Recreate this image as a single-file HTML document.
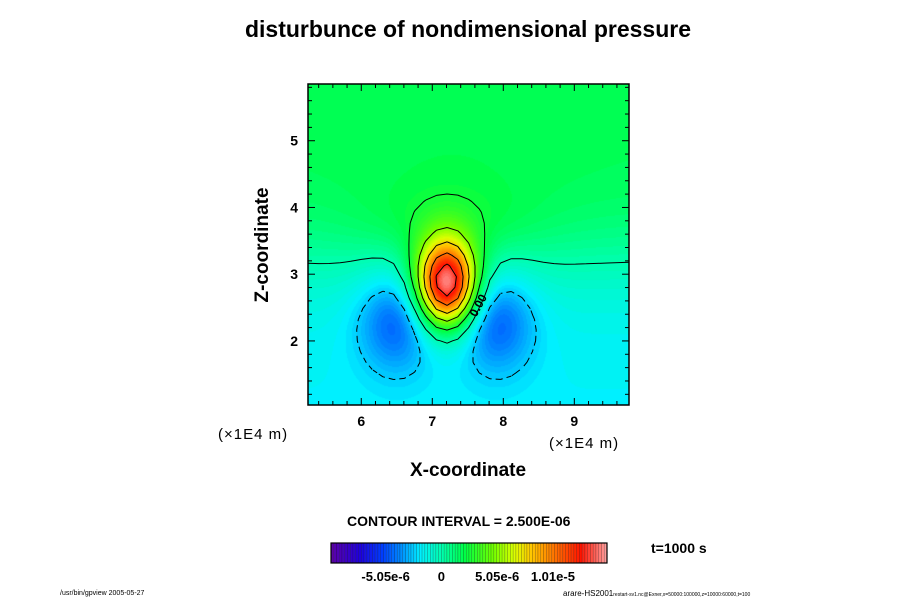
<!DOCTYPE html>
<html><head><meta charset="utf-8">
<style>
html,body{margin:0;padding:0;background:#fff;}
body{width:900px;height:600px;position:relative;overflow:hidden;font-family:"Liberation Sans",sans-serif;}
.t{position:absolute;white-space:nowrap;color:#000;}
</style></head>
<body>
<div class="t" style="left:0;width:936px;text-align:center;top:16px;font-size:23px;font-weight:bold;">disturbunce of nondimensional pressure</div>
<svg id="chart" width="900" height="600" style="position:absolute;left:0;top:0">
  <foreignObject x="308" y="84" width="321" height="321"><canvas xmlns="http://www.w3.org/1999/xhtml" id="cv" width="321" height="321"></canvas></foreignObject>
  <g id="contours"></g>
  <g id="axes"></g>
  <g id="cbar"></g>
</svg>
<div class="t" style="left:263px;top:245px;transform:translate(-50%,-50%) rotate(-90deg);font-size:19px;font-weight:bold;">Z-coordinate</div>
<div class="t" style="left:468px;top:471px;transform:translate(-50%,-50%);font-size:19px;font-weight:bold;">X-coordinate</div>
<div class="t" style="left:218px;top:426px;font-size:15px;letter-spacing:1px;">(×1E4 m)</div>
<div class="t" style="left:549px;top:435px;font-size:15px;letter-spacing:1px;">(×1E4 m)</div>
<div class="t" style="left:347px;top:513px;font-size:14px;font-weight:bold;">CONTOUR INTERVAL = 2.500E-06</div>
<div class="t" style="left:651px;top:540px;font-size:14px;font-weight:bold;">t=1000 s</div>
<div class="t" style="left:60px;top:590px;font-size:7px;">/usr/bin/gpview 2005-05-27</div>
<div class="t" style="left:563px;top:589px;font-size:8px;">arare-HS2001<span style="font-size:5px;">restart-sv1.nc@Exner,x=50000:100000,z=10000:60000,t=100</span></div>
<script>
// ---- data ----
const xTicks=[6,7,8,9];
const zTicks=[2,3,4,5];
const xRange=[5.25,9.77];
const zRange=[1.04,5.85];
// field components (x center, z center, amplitude, sigma x, sigma z)
const blobX=[7.2,7.25,7.3,6.5,7.9];
const blobZ=[2.85,3.75,4.3,2.3,2.3];
const blobAmp=[1.55e-5,1.0e-6,0.3e-6,-3.2e-6,-3.2e-6];
const blobSx=[0.3,0.8,1.5,0.38,0.38];
const blobSz=[0.46,0.4,1.0,0.52,0.52];
const baseAmp=1.8e-6, baseZ0=3.2, baseScale=0.9;
const levels=[-2.5e-6,0,2.5e-6,5e-6,7.5e-6,1e-5,1.25e-5];
const cbMin=-1.0e-5, cbMax=1.5e-5, cbSteps=100;
const cbTicks=[-5.05e-6,0,5.05e-6,1.01e-5];
const cbTickLabels=["-5.05e-6","0","5.05e-6","1.01e-5"];
// ---- geometry ----
const PX0=308,PX1=629,PY0=84,PY1=405;
const sx=v=>PX0+(v-xRange[0])/(xRange[1]-xRange[0])*(PX1-PX0);
const sz=v=>PY1-(v-zRange[0])/(zRange[1]-zRange[0])*(PY1-PY0);
function field(x,z){
  let v=baseAmp*Math.tanh((z-baseZ0)/baseScale);
  for(let i=0;i<blobX.length;i++){
    const dx=(x-blobX[i])/blobSx[i],dz=(z-blobZ[i])/blobSz[i];
    v+=blobAmp[i]*Math.exp(-0.5*(dx*dx+dz*dz));
  }
  return v;
}
const cstops=[[0,[90,0,170]],[0.1,[30,0,220]],[0.18,[0,60,255]],[0.24,[0,130,255]],[0.32,[0,240,255]],[0.4,[0,255,170]],[0.48,[0,255,70]],[0.58,[110,255,0]],[0.66,[220,255,0]],[0.72,[255,200,0]],[0.8,[255,120,0]],[0.9,[255,20,0]],[1,[255,170,170]]];
function cmap(v){
  let t=(v-cbMin)/(cbMax-cbMin);t=Math.max(0,Math.min(1,t));
  t=Math.floor(t*cbSteps)/cbSteps;
  for(let i=1;i<cstops.length;i++){if(t<=cstops[i][0]){const a=cstops[i-1],b=cstops[i];const f=(t-a[0])/(b[0]-a[0]);return a[1].map((c,k)=>Math.round(c+(b[1][k]-c)*f));}}
  return cstops[cstops.length-1][1];
}
// shaded field
const cv=document.getElementById('cv'),ctx=cv.getContext('2d');
const img=ctx.createImageData(321,321);
for(let j=0;j<321;j++)for(let i=0;i<321;i++){
  const x=xRange[0]+(i+0.5)/321*(xRange[1]-xRange[0]);
  const z=zRange[1]-(j+0.5)/321*(zRange[1]-zRange[0]);
  const c=cmap(field(x,z));const k=(j*321+i)*4;
  img.data[k]=c[0];img.data[k+1]=c[1];img.data[k+2]=c[2];img.data[k+3]=255;
}
ctx.putImageData(img,0,0);
const NS='http://www.w3.org/2000/svg';
function mk(tag,attrs,parent){const e=document.createElementNS(NS,tag);for(const k in attrs)e.setAttribute(k,attrs[k]);parent.appendChild(e);return e;}
// contours via marching squares on a coarse grid
const cg=document.getElementById('contours');
const NX=30,NZ=30;
const gx=[],gz=[],gv=[];
for(let i=0;i<=NX;i++)gx.push(xRange[0]+i/NX*(xRange[1]-xRange[0]));
for(let j=0;j<=NZ;j++)gz.push(zRange[0]+j/NZ*(zRange[1]-zRange[0]));
for(let j=0;j<=NZ;j++){gv.push([]);for(let i=0;i<=NX;i++)gv[j].push(field(gx[i],gz[j]));}
levels.forEach(L=>{
  let d='';
  for(let j=0;j<NZ;j++)for(let i=0;i<NX;i++){
    const p=[[gx[i],gz[j],gv[j][i]],[gx[i+1],gz[j],gv[j][i+1]],[gx[i+1],gz[j+1],gv[j+1][i+1]],[gx[i],gz[j+1],gv[j+1][i]]];
    const pts=[];
    for(let e=0;e<4;e++){const a=p[e],b=p[(e+1)%4];
      if((a[2]-L)*(b[2]-L)<0){const f=(L-a[2])/(b[2]-a[2]);pts.push([sx(a[0]+(b[0]-a[0])*f),sz(a[1]+(b[1]-a[1])*f)]);}}
    for(let k=0;k+1<pts.length;k+=2)d+=`M${pts[k][0].toFixed(1)},${pts[k][1].toFixed(1)}L${pts[k+1][0].toFixed(1)},${pts[k+1][1].toFixed(1)}`;
  }
  const path=mk('path',{d:d,fill:'none',stroke:'#000','stroke-width':1},cg);
  
  
  if(L<0)path.setAttribute('stroke-dasharray','5,4');
});
const zl=mk('text',{x:sx(7.62),y:sz(2.35),'font-size':12,'font-weight':'bold','font-family':'Liberation Sans, sans-serif',transform:`rotate(-62 ${sx(7.62)} ${sz(2.35)})`},cg);
zl.textContent='0.00';


// axes
const ax=document.getElementById('axes');
mk('rect',{x:PX0,y:PY0,width:PX1-PX0,height:PY1-PY0,fill:'none',stroke:'#000','stroke-width':1.5},ax);
for(let v=5.4;v<=9.77;v+=0.2){const X=sx(v);const maj=Math.abs(v-Math.round(v))<0.01;const L=maj?7:4;
  mk('line',{x1:X,y1:PY1,x2:X,y2:PY1-L,stroke:'#000'},ax);mk('line',{x1:X,y1:PY0,x2:X,y2:PY0+L,stroke:'#000'},ax);}
for(let v=1.2;v<=5.85;v+=0.2){const Y=sz(v);const maj=Math.abs(v-Math.round(v))<0.01;const L=maj?7:4;
  mk('line',{x1:PX0,y1:Y,x2:PX0+L,y2:Y,stroke:'#000'},ax);mk('line',{x1:PX1,y1:Y,x2:PX1-L,y2:Y,stroke:'#000'},ax);}
xTicks.forEach(v=>{const t=mk('text',{x:sx(v),y:426,'text-anchor':'middle','font-size':14,'font-weight':'bold','font-family':'Liberation Sans, sans-serif'},ax);t.textContent=v;
  
  });
zTicks.forEach(v=>{const t=mk('text',{x:298,y:sz(v)+5,'text-anchor':'end','font-size':14,'font-weight':'bold','font-family':'Liberation Sans, sans-serif'},ax);t.textContent=v;
  
  });
// colorbar
const cb=document.getElementById('cbar');
const CB0=331,CB1=607,CBY=543,CBH=20;
const cbx=v=>CB0+(v-cbMin)/(cbMax-cbMin)*(CB1-CB0);
for(let s=0;s<cbSteps;s++){
  const v0=cbMin+s*(cbMax-cbMin)/cbSteps,v1=v0+(cbMax-cbMin)/cbSteps;
  const c=cmap(v0+1e-12);
  const r=mk('rect',{x:cbx(v0),y:CBY,width:cbx(v1)-cbx(v0),height:CBH,fill:`rgb(${c})`,stroke:'rgba(0,0,0,0.35)','stroke-width':0.5},cb);
  
  
}
mk('rect',{x:CB0,y:CBY,width:CB1-CB0,height:CBH,fill:'none',stroke:'#000','stroke-width':1.2},cb);
cbTicks.forEach((v,i)=>{const t=mk('text',{x:cbx(v),y:581,'text-anchor':'middle','font-size':13,'font-weight':'bold','font-family':'Liberation Sans, sans-serif'},cb);t.textContent=cbTickLabels[i];
  
  });
</script>
</body></html>
